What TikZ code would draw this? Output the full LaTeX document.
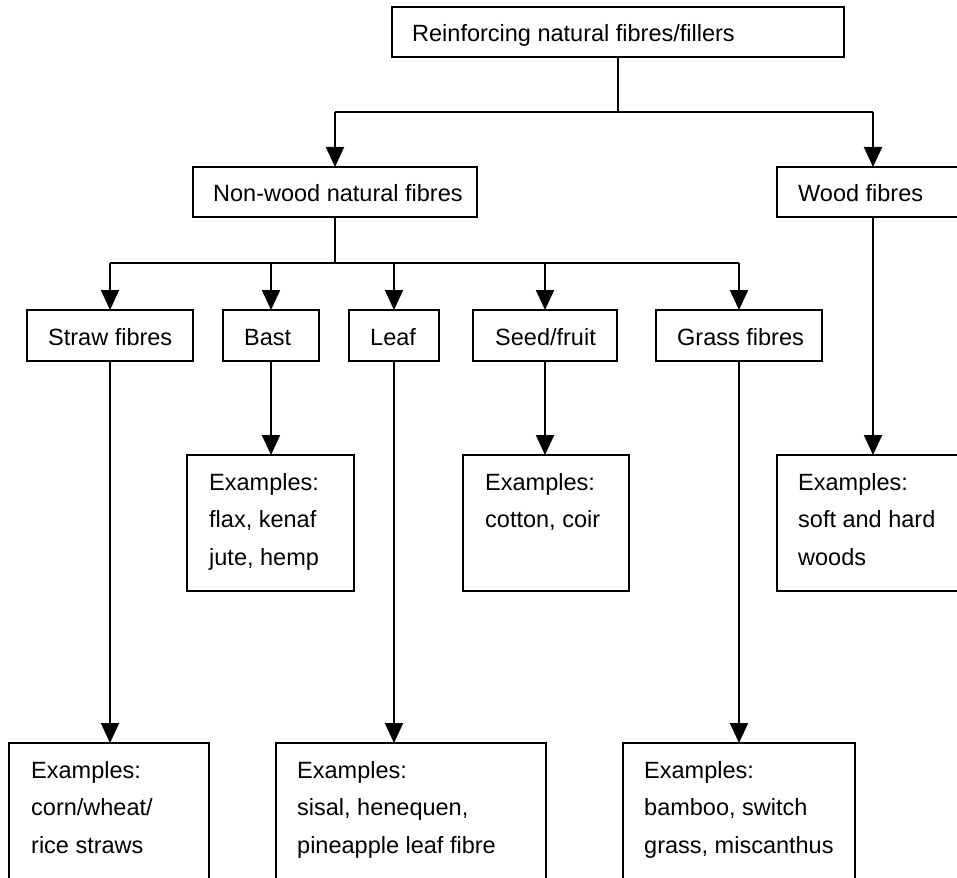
\documentclass[tikz,border=0pt]{standalone}
\usepackage{fontspec}
\setmainfont{Liberation Sans}
\usetikzlibrary{arrows.meta}
\newcommand{\txtlines}[1]{\begin{tabular}[t]{@{}l@{}}#1\end{tabular}}
\begin{document}
\begin{tikzpicture}[x=1pt,y=-1pt,
  box/.style={draw, line width=2pt, anchor=north west, inner sep=0pt, outer sep=0pt},
  lbl/.style={anchor=base west, inner sep=0pt, font=\fontsize{23.5}{37.5}\selectfont},
  conn/.style={line width=2pt},
  arr/.style={conn, -{Triangle[length=20pt,width=18pt]}}]
\path[use as bounding box] (0,0) rectangle (957,877);
\fill[white] (0,0) rectangle (957,877);
\clip (0,0) rectangle (957,877);

% boxes
\node[box, minimum width=452pt, minimum height=50pt] (top) at (392,7) {};
\node[box, minimum width=284pt, minimum height=50pt] (nonwood) at (193,167) {};
\node[box, minimum width=192pt, minimum height=50pt] (wood) at (777,167) {};
\node[box, minimum width=166pt, minimum height=51pt] (straw) at (27,310) {};
\node[box, minimum width=96pt, minimum height=51pt] (bast) at (223,310) {};
\node[box, minimum width=90pt, minimum height=51pt] (leaf) at (349,310) {};
\node[box, minimum width=144pt, minimum height=51pt] (seed) at (473,310) {};
\node[box, minimum width=166pt, minimum height=51pt] (grass) at (656,310) {};
\node[box, minimum width=167pt, minimum height=136pt] (bastex) at (187,455) {};
\node[box, minimum width=166pt, minimum height=136pt] (seedex) at (463,455) {};
\node[box, minimum width=192pt, minimum height=136pt] (woodex) at (777,455) {};
\node[box, minimum width=200pt, minimum height=150pt] (strawex) at (9,743) {};
\node[box, minimum width=270pt, minimum height=150pt] (leafex) at (276,743) {};
\node[box, minimum width=232pt, minimum height=150pt] (grassex) at (623,743) {};

% labels
\node[lbl] (ttop) at ([shift={(20,35)}]top.north west) {Reinforcing natural fibres/fillers};
\node[lbl] (tnonwood) at ([shift={(20,35)}]nonwood.north west) {Non-wood natural fibres};
\node[lbl] (twood) at ([shift={(21,35)}]wood.north west) {Wood fibres};
\node[lbl] (tstraw) at ([shift={(21,35)}]straw.north west) {Straw fibres};
\node[lbl] (tbast) at ([shift={(21,35)}]bast.north west) {Bast};
\node[lbl] (tleaf) at ([shift={(21,35)}]leaf.north west) {Leaf};
\node[lbl] (tseed) at ([shift={(22,35)}]seed.north west) {Seed/fruit};
\node[lbl] (tgrass) at ([shift={(21,35)}]grass.north west) {Grass fibres};
\node[lbl] (tbastex) at ([shift={(22,35)}]bastex.north west) {\txtlines{Examples:\\flax, kenaf\\jute, hemp}};
\node[lbl] (tseedex) at ([shift={(22,35)}]seedex.north west) {\txtlines{Examples:\\cotton, coir}};
\node[lbl] (twoodex) at ([shift={(21,35)}]woodex.north west) {\txtlines{Examples:\\soft and hard\\woods}};
\node[lbl] (tstrawex) at ([shift={(22,35)}]strawex.north west) {\txtlines{Examples:\\corn/wheat/\\rice straws}};
\node[lbl] (tleafex) at ([shift={(21,35)}]leafex.north west) {\txtlines{Examples:\\sisal, henequen,\\pineapple leaf fibre}};
\node[lbl] (tgrassex) at ([shift={(21,35)}]grassex.north west) {\txtlines{Examples:\\bamboo, switch\\grass, miscanthus}};

% junctions
\coordinate (j1) at (618,112);
\coordinate (j2) at (335,263);

% connectors level 1
\draw[conn] (top.south) -- (top.south |- j1);
\draw[conn] (nonwood.north |- j1) -- (wood.north |- j1);
\draw[arr] (nonwood.north |- j1) -- (nonwood.north);
\draw[arr] (wood.north |- j1) -- (wood.north);

% connectors level 2
\draw[conn] (nonwood.south) -- (nonwood.south |- j2);
\draw[conn] (straw.north |- j2) -- (grass.north |- j2);
\draw[arr] (straw.north |- j2) -- (straw.north);
\draw[arr] (bast.north |- j2) -- (bast.north);
\draw[arr] (leaf.north |- j2) -- (leaf.north);
\draw[arr] (seed.north |- j2) -- (seed.north);
\draw[arr] (grass.north |- j2) -- (grass.north);

% connectors to examples
\draw[arr] (straw.south) -- (straw.south |- strawex.north);
\draw[arr] (bast.south) -- (bast.south |- bastex.north);
\draw[arr] (leaf.south) -- (leaf.south |- leafex.north);
\draw[arr] (seed.south) -- (seed.south |- seedex.north);
\draw[arr] (grass.south) -- (grass.south |- grassex.north);
\draw[arr] (wood.south) -- (wood.south |- woodex.north);
\end{tikzpicture}
\end{document}
